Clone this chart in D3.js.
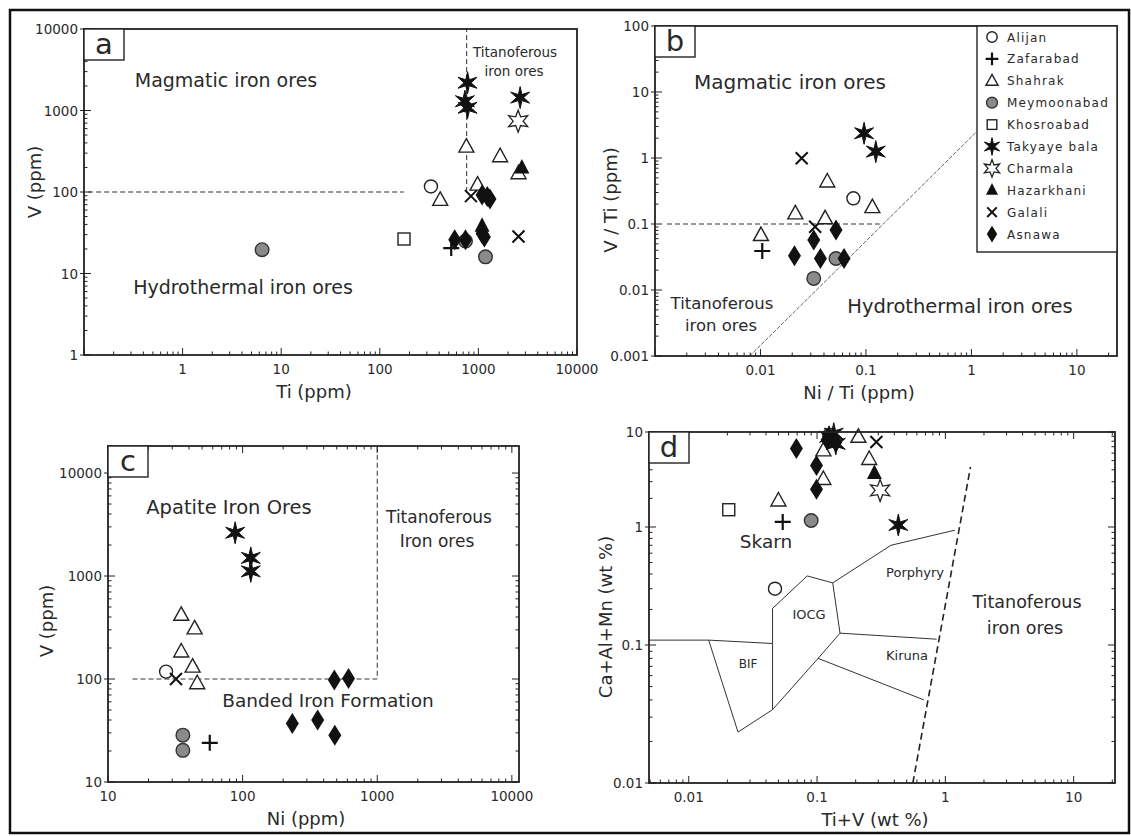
<!DOCTYPE html>
<html>
<head>
<meta charset="utf-8">
<script src="https://cdn.jsdelivr.net/npm/d3@7"></script>
<style>
  body { margin: 0; background: #fff; }
  text { font-family: "DejaVu Sans", sans-serif; fill: #2a2a2a; }
  .frame { fill: none; stroke: #111; stroke-width: 2.5; }
  .tick { stroke: #222; stroke-width: 1; }
  .dash { fill: none; stroke: #333; stroke-width: 1; stroke-dasharray: 5,3; }
  .field { fill: none; stroke: #333; stroke-width: 1; }
</style>
</head>
<body>
<svg id="chart" width="1131" height="836"></svg>
<script>
// sites, in legend order
var sites = ['Alijan', 'Zafarabad', 'Shahrak', 'Meymoonabad', 'Khosroabad',
             'Takyaye bala', 'Charmala', 'Hazarkhani', 'Galali', 'Asnawa'];

// a: Ti (ppm) vs V (ppm)
var aPoints = [
  ['Meymoonabad', 6.4, 19.6], ['Meymoonabad', 740, 25], ['Meymoonabad', 1180, 16],
  ['Khosroabad', 176, 26.5], ['Zafarabad', 530, 20.5], ['Alijan', 330, 117],
  ['Shahrak', 755, 360], ['Shahrak', 1660, 275], ['Shahrak', 2550, 170], ['Shahrak', 980, 123], ['Shahrak', 410, 80],
  ['Galali', 840, 89], ['Galali', 2550, 28.5],
  ['Asnawa', 1090, 92], ['Asnawa', 1310, 82], ['Asnawa', 1230, 88], ['Asnawa', 575, 26], ['Asnawa', 740, 26], ['Asnawa', 1090, 31], ['Asnawa', 1150, 28],
  ['Hazarkhani', 2760, 197], ['Hazarkhani', 1090, 38],
  ['Charmala', 2530, 740],
  ['Takyaye bala', 776, 2190], ['Takyaye bala', 730, 1300], ['Takyaye bala', 776, 1080], ['Takyaye bala', 2650, 1440]
];

// b: Ni/Ti vs V/Ti
var bPoints = [
  ['Galali', 0.0246, 0.99], ['Galali', 0.033, 0.091],
  ['Takyaye bala', 0.096, 2.37], ['Takyaye bala', 0.124, 1.25],
  ['Shahrak', 0.043, 0.44], ['Shahrak', 0.0214, 0.145], ['Shahrak', 0.041, 0.122], ['Shahrak', 0.115, 0.18], ['Shahrak', 0.0101, 0.068],
  ['Alijan', 0.076, 0.245], ['Zafarabad', 0.0104, 0.039],
  ['Meymoonabad', 0.032, 0.015], ['Meymoonabad', 0.052, 0.030],
  ['Asnawa', 0.021, 0.033], ['Asnawa', 0.032, 0.057], ['Asnawa', 0.037, 0.030], ['Asnawa', 0.052, 0.081], ['Asnawa', 0.062, 0.030]
];

// c: Ni (ppm) vs V (ppm)
var cPoints = [
  ['Takyaye bala', 88, 2630], ['Takyaye bala', 115, 1500], ['Takyaye bala', 115, 1110],
  ['Shahrak', 35, 420], ['Shahrak', 44, 310], ['Shahrak', 35, 185], ['Shahrak', 42.5, 132], ['Shahrak', 46, 91],
  ['Alijan', 27, 118], ['Galali', 32, 100],
  ['Asnawa', 480, 98], ['Asnawa', 612, 101], ['Asnawa', 234, 37], ['Asnawa', 361, 40], ['Asnawa', 484, 28.5],
  ['Meymoonabad', 36, 28.5], ['Meymoonabad', 36, 20.3], ['Zafarabad', 57, 24]
];

// d: Ti+V (wt %) vs Ca+Al+Mn (wt %)
var dPoints = [
  ['Khosroabad', 0.0205, 1.52], ['Zafarabad', 0.054, 1.13], ['Meymoonabad', 0.09, 1.17], ['Meymoonabad', 0.125, 9.3],
  ['Alijan', 0.047, 0.30],
  ['Shahrak', 0.050, 1.9], ['Shahrak', 0.112, 6.4], ['Shahrak', 0.21, 8.9], ['Shahrak', 0.255, 5.2], ['Shahrak', 0.112, 3.2],
  ['Asnawa', 0.069, 6.7], ['Asnawa', 0.099, 4.45], ['Asnawa', 0.099, 2.5], ['Asnawa', 0.12, 8.3], ['Asnawa', 0.14, 7.8],
  ['Galali', 0.29, 7.85], ['Hazarkhani', 0.28, 3.65], ['Charmala', 0.31, 2.43],
  ['Takyaye bala', 0.43, 1.05], ['Takyaye bala', 0.124, 8.9], ['Takyaye bala', 0.14, 7.5], ['Takyaye bala', 0.135, 9.6]
];

// field boundaries
var aDash = [[[0.11, 100], [175, 100]], [[760, 100], [760, 10000]]];
var bDash = [[[0.0013, 0.1], [0.135, 0.1]]];
var bDiag = [[0.0079, 0.001], [1.12, 2.5]];
var cDash = [[[15.2, 100], [1000, 100], [1000, 18300]]];
var dFields = [
  [[0.0049, 0.11], [0.0143, 0.11], [0.045, 0.103]],
  [[0.0143, 0.11], [0.0242, 0.0234], [0.045, 0.034]],
  [[0.045, 0.034], [0.045, 0.204], [0.0838, 0.385], [0.1325, 0.336], [0.151, 0.126], [0.102, 0.080], [0.045, 0.034]],
  [[0.1325, 0.336], [0.377, 0.70], [1.186, 0.94]],
  [[0.151, 0.126], [0.855, 0.112]],
  [[0.102, 0.080], [0.68, 0.040]]
];
var dDash = [[0.558, 0.01], [1.57, 4.28]];

var svg = d3.select('#chart');
svg.append('rect').attr('class', 'frame').attr('x', 10).attr('y', 10).attr('width', 1119).attr('height', 823);

// marker shapes
var starPath = function(r1, r2) {
  var pts = [];
  for (var k = 0; k < 12; k++) {
    var a = k * Math.PI / 6 - Math.PI / 2, r = k % 2 ? r2 : r1;
    pts.push([r * Math.cos(a), r * Math.sin(a)]);
  }
  return 'M' + pts.join('L') + 'Z';
};
var drawMarker = function(g, site, s) {
  s = s || 1;
  switch (site) {
    case 'Alijan':
      g.append('circle').attr('r', 6.5 * s).attr('fill', '#fff').attr('stroke', '#222').attr('stroke-width', 1.4); break;
    case 'Zafarabad':
      g.append('path').attr('d', 'M-8,0H8M0,-8V8').attr('transform', 'scale(' + s + ')').attr('stroke', '#111').attr('stroke-width', 2.2 / s); break;
    case 'Shahrak':
      g.append('path').attr('d', 'M0,-8L7.5,5.5L-7.5,5.5Z').attr('transform', 'scale(' + s + ')').attr('fill', '#fff').attr('stroke', '#222').attr('stroke-width', 1.4 / s); break;
    case 'Meymoonabad':
      g.append('circle').attr('r', 6.8 * s).attr('fill', '#8a8a8a').attr('stroke', '#333').attr('stroke-width', 1.4); break;
    case 'Khosroabad':
      g.append('rect').attr('x', -6 * s).attr('y', -6 * s).attr('width', 12 * s).attr('height', 12 * s).attr('fill', '#fff').attr('stroke', '#222').attr('stroke-width', 1.4); break;
    case 'Takyaye bala':
      g.append('path').attr('d', starPath(11 * s, 3.5 * s)).attr('fill', '#111').attr('stroke', '#111').attr('stroke-width', 1); break;
    case 'Charmala':
      g.append('path').attr('d', starPath(11 * s, 5 * s)).attr('fill', '#fff').attr('stroke', '#222').attr('stroke-width', 1.3); break;
    case 'Hazarkhani':
      g.append('path').attr('d', 'M0,-9L7.5,5.5L-7.5,5.5Z').attr('transform', 'scale(' + s + ')').attr('fill', '#111'); break;
    case 'Galali':
      g.append('path').attr('d', 'M-6,-6L6,6M6,-6L-6,6').attr('transform', 'scale(' + s + ')').attr('stroke', '#111').attr('stroke-width', 2 / s); break;
    case 'Asnawa':
      g.append('path').attr('d', 'M0,-10.5L6.5,0L0,10.5L-6.5,0Z').attr('transform', 'scale(' + s + ')').attr('fill', '#111'); break;
  }
};

// log ticks: majors at decades, minors 2..9
var logTicks = function(scale) {
  var dom = d3.extent(scale.domain()), out = [];
  for (var e = Math.floor(Math.log10(dom[0])); e <= Math.ceil(Math.log10(dom[1])); e++) {
    for (var m = 1; m < 10; m++) {
      var v = m * Math.pow(10, e);
      if (v >= dom[0] * 0.999 && v <= dom[1] * 1.001) out.push({ v: v, major: m === 1 });
    }
  }
  return out;
};

var fmt = function(v) { return v >= 1 ? d3.format('d')(v) : String(+v.toPrecision(1)); };

var panel = function(cfg) {
  var x = cfg.x, y = cfg.y;
  var x0 = x.range()[0], x1 = x.range()[x.range().length - 1];
  var y0 = y.range()[0], y1 = y.range()[y.range().length - 1];
  var g = svg.append('g');

  var clipId = 'clip-' + cfg.letter;
  svg.append('clipPath').attr('id', clipId).append('rect')
     .attr('x', x0).attr('y', y1).attr('width', x1 - x0).attr('height', y0 - y1);

  var line = d3.line().x(function(d) { return x(d[0]); }).y(function(d) { return y(d[1]); });
  var inner = g.append('g').attr('clip-path', 'url(#' + clipId + ')');
  (cfg.dash || []).forEach(function(l) { inner.append('path').attr('class', 'dash').attr('d', line(l)); });
  (cfg.fields || []).forEach(function(l) { inner.append('path').attr('class', 'field').attr('d', line(l)); });
  if (cfg.diag) inner.append('path').attr('d', line(cfg.diag)).attr('fill', 'none').attr('stroke', '#666').attr('stroke-width', 1).attr('stroke-dasharray', '4,1.5');
  if (cfg.bigDash) inner.append('path').attr('d', line(cfg.bigDash)).attr('fill', 'none').attr('stroke', '#222').attr('stroke-width', 1.6).attr('stroke-dasharray', '7,4');

  // region texts
  (cfg.labels || []).forEach(function(t) {
    g.append('text').attr('x', t[0]).attr('y', t[1]).attr('text-anchor', 'middle')
     .attr('font-size', t[3]).text(t[2]);
  });

  // points
  var pts = g.append('g').attr('class', 'points');
  cfg.points.forEach(function(p) {
    var m = pts.append('g').attr('transform', 'translate(' + x(p[1]) + ',' + y(p[2]) + ')');
    drawMarker(m, p[0]);
  });

  // frame and ticks
  g.append('rect').attr('x', x0).attr('y', y1).attr('width', x1 - x0).attr('height', y0 - y1)
   .attr('fill', 'none').attr('stroke', '#222').attr('stroke-width', 1.8);

  logTicks(x).forEach(function(t) {
    var len = t.major ? 7 : 3.5;
    g.append('line').attr('class', 'tick').attr('x1', x(t.v)).attr('x2', x(t.v)).attr('y1', y0).attr('y2', y0 - len);
    if (cfg.mirror) g.append('line').attr('class', 'tick').attr('x1', x(t.v)).attr('x2', x(t.v)).attr('y1', y1).attr('y2', y1 + len);
  });
  logTicks(y).forEach(function(t) {
    var len = t.major ? 7 : 3.5;
    g.append('line').attr('class', 'tick').attr('y1', y(t.v)).attr('y2', y(t.v)).attr('x1', x0 - (t.major ? 4 : 0)).attr('x2', x0 + len);
    if (cfg.mirror) g.append('line').attr('class', 'tick').attr('y1', y(t.v)).attr('y2', y(t.v)).attr('x1', x1).attr('x2', x1 - len);
  });

  cfg.xLabels.forEach(function(v) {
    g.append('text').attr('x', x(v)).attr('y', y0 + 19).attr('text-anchor', 'middle').attr('font-size', 13.5).text(fmt(v));
  });
  cfg.yLabels.forEach(function(v) {
    g.append('text').attr('x', x0 - 6).attr('y', y(v) + 5).attr('text-anchor', 'end').attr('font-size', 13.5).text(fmt(v));
  });

  g.append('text').attr('x', cfg.xTitle[1]).attr('y', y0 + 43).attr('text-anchor', 'middle')
   .attr('font-size', 18).text(cfg.xTitle[0]);
  g.append('text').attr('transform', 'translate(' + cfg.yTitle[1] + ',' + cfg.yTitle[2] + ') rotate(-90)')
   .attr('text-anchor', 'middle').attr('font-size', 18).text(cfg.yTitle[0]);

  // panel letter box
  g.append('rect').attr('x', x0).attr('y', y1).attr('width', 40).attr('height', 31)
   .attr('fill', '#fff').attr('stroke', '#222').attr('stroke-width', 1.4);
  g.append('text').attr('x', x0 + 20).attr('y', y1 + 25).attr('text-anchor', 'middle').attr('font-size', 29).text(cfg.letter);
  return g;
};

panel({
  letter: 'a',
  x: d3.scaleLog().domain([0.1, 10000]).range([84, 577]),
  y: d3.scaleLog().domain([1, 10000]).range([355, 29]),
  points: aPoints, dash: aDash,
  xLabels: [1, 10, 100, 1000, 10000], yLabels: [1, 10, 100, 1000, 10000],
  xTitle: ['Ti (ppm)', 314], yTitle: ['V (ppm)', 41, 182],
  labels: [[226, 87, 'Magmatic iron ores', 19], [243, 294, 'Hydrothermal iron ores', 19],
           [515, 57, 'Titanoferous', 13.5], [514, 76, 'iron ores', 13.5]]
});

var bPanel = panel({
  letter: 'b',
  x: d3.scaleLog().domain([0.001, 24]).range([655, 1117]),
  y: d3.scaleLog().domain([0.001, 100]).range([356, 26]),
  points: bPoints, dash: bDash, diag: bDiag,
  xLabels: [0.01, 0.1, 1, 10], yLabels: [0.001, 0.01, 0.1, 1, 10, 100],
  xTitle: ['Ni / Ti (ppm)', 859], yTitle: ['V / Ti (ppm)', 617, 200],
  labels: [[790, 89, 'Magmatic iron ores', 20], [960, 313, 'Hydrothermal iron ores', 19.5],
           [722, 309, 'Titanoferous', 16.5], [721, 331, 'iron ores', 16.5]]
});

// legend in b
var leg = bPanel.append('g');
leg.append('rect').attr('x', 977).attr('y', 26).attr('width', 140).attr('height', 226)
   .attr('fill', '#fff').attr('stroke', '#222').attr('stroke-width', 1.4);
sites.forEach(function(s, i) {
  var yy = 37 + i * 21.9;
  var m = leg.append('g').attr('transform', 'translate(992,' + yy + ')');
  drawMarker(m, s, 0.8);
  leg.append('text').attr('x', 1007).attr('y', yy + 4.5).attr('font-size', 12)
     .attr('letter-spacing', 1.2).text(s);
});

panel({
  letter: 'c', mirror: true,
  x: d3.scaleLog().domain([10, 11300]).range([108, 519]),
  y: d3.scaleLog().domain([10, 18300]).range([782, 446]),
  points: cPoints, dash: cDash,
  xLabels: [10, 100, 1000, 10000], yLabels: [10, 100, 1000, 10000],
  xTitle: ['Ni (ppm)', 306], yTitle: ['V (ppm)', 53, 621],
  labels: [[229, 514, 'Apatite Iron Ores', 19.5], [328, 707, 'Banded Iron Formation', 18.5],
           [439, 523, 'Titanoferous', 17], [437, 547, 'Iron ores', 17]]
});

panel({
  letter: 'd', mirror: true,
  x: d3.scaleLog().domain([0.0049, 21]).range([649, 1115]),
  y: d3.scaleLog().domain([0.01, 0.1, 1, 10]).range([783, 645, 527, 432]),
  points: dPoints, fields: dFields, bigDash: dDash,
  xLabels: [0.01, 0.1, 1, 10], yLabels: [0.01, 0.1, 1, 10],
  xTitle: ['Ti+V (wt %)', 875], yTitle: ['Ca+Al+Mn (wt %)', 612, 617],
  labels: [[766, 548, 'Skarn', 18.5], [809, 619, 'IOCG', 13], [748, 668, 'BIF', 12],
           [915, 577, 'Porphyry', 13], [907, 660, 'Kiruna', 13],
           [1027, 608, 'Titanoferous', 17.5], [1025, 634, 'iron ores', 17.5]]
});
</script>
</body>
</html>
